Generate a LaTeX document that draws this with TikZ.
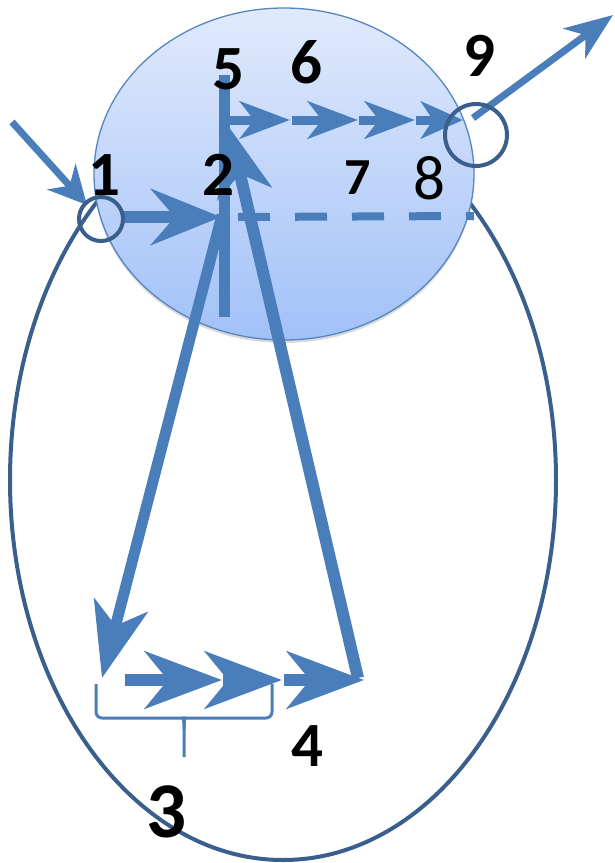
\documentclass[tikz,border=0pt]{standalone}
\usepackage{fontspec}
\setmainfont{Carlito}
\usetikzlibrary{arrows.meta,shadows}
\definecolor{arr}{HTML}{4A7EBB}
\definecolor{ring}{HTML}{3B5F8D}
\definecolor{circtop}{HTML}{E0EAFC}
\definecolor{circbot}{HTML}{A2C1F8}
\definecolor{circborder}{HTML}{5585C2}
\begin{document}
\begin{tikzpicture}[x=1pt,y=-1pt,
  lab/.style={inner sep=0pt,font=\fontsize{63}{63}\selectfont\bfseries},
  ringline/.style={draw=ring,line width=4pt},
  toparrow/.style={draw=arr,line width=9pt,-{Stealth[length=50pt,width=37pt,inset=14pt]}},
  botarrow/.style={draw=arr,line width=12pt,-{Stealth[length=77pt,width=57pt,inset=23pt]}},
  bracepath/.style={draw=arr,line width=3pt,rounded corners=6pt}]
\useasboundingbox (0,0) rectangle (614,863);
% big ellipse
\draw[ringline] (283,480) ellipse [x radius=273, y radius=380];
% blue circle
\shade[top color=circtop,bottom color=circbot,draw=circborder,line width=1.3pt,
  drop shadow={shadow xshift=0pt,shadow yshift=-3pt,opacity=0.3}]
  (284,174) ellipse [x radius=190, y radius=166];
% coordinates
\coordinate (inS) at (12,122);
\coordinate (inT) at (87,205);
\coordinate (hS) at (122,217);
\coordinate (hT) at (221,217);
\coordinate (barTop) at (224,75);
\coordinate (barBot) at (224,317);
\coordinate (dS) at (238,217);
\coordinate (dE) at (474,216);
\coordinate (t0) at (230,120);
\coordinate (t1) at (290,120);
\coordinate (t1b) at (292,120);
\coordinate (t2) at (358,120);
\coordinate (t2b) at (359,120);
\coordinate (t3) at (415,120);
\coordinate (t3b) at (416,120);
\coordinate (t4) at (463,120);
\coordinate (oS) at (473,118);
\coordinate (oT) at (613,15);
\coordinate (downS) at (222,215);
\coordinate (downT) at (102,678);
\coordinate (upS) at (358,678);
\coordinate (upT) at (229,127);
\coordinate (b0) at (125,680);
\coordinate (b1) at (222,680);
\coordinate (b1b) at (223,680);
\coordinate (b2) at (282,680);
\coordinate (b2b) at (284,680);
\coordinate (b3) at (364,680);
% bar and dashed line
\draw[arr,line width=11pt] (barTop) -- (barBot);
\draw[arr,line width=8pt,dash pattern=on 32pt off 25pt] (dS) -- (dE);
% arrows
\draw[arr,line width=7pt,-{Stealth[length=38pt,width=38pt,inset=12pt]}] (inS) -- (inT);
\draw[arr,line width=12pt,-{Stealth[length=70pt,width=56pt,inset=24pt]}] (hS) -- (hT);
\draw[toparrow] (t0) -- (t1);
\draw[toparrow] (t1b) -- (t2);
\draw[toparrow] (t2b) -- (t3);
\draw[draw=arr,line width=9pt,-{Stealth[length=42pt,width=37pt,inset=12pt]}] (t3b) -- (t4);
\draw[arr,line width=7pt,-{Stealth[length=48pt,width=37pt,inset=14pt]}] (oS) -- (oT);
\draw[arr,line width=11pt,-{Stealth[length=75pt,width=55pt,inset=21pt]}] (downS) -- (downT);
\draw[arr,line width=12pt,-{Stealth[length=68pt,width=55pt,inset=20pt]}] (upS) -- (upT);
\draw[botarrow] (b0) -- (b1);
\draw[botarrow] (b1b) -- (b2);
\draw[botarrow] (b2b) -- (b3);
% small circles
\draw[ringline] (101,219) circle [radius=22];
\draw[ringline] (476,135) circle [radius=31];
% brace
\draw[bracepath] (96,684) -- (96,718) -- (178,718)
  .. controls (183,718) and (184,722) .. (184,730) -- (184,757);
\draw[bracepath] (272,684) -- (272,718) -- (190,718)
  .. controls (185,718) and (184,722) .. (184,730);
% labels
\node[lab] (l1) at (104,175) {1};
\node[lab] (l2) at (218,175) {2};
\node[lab] (l5) at (228,69) {5};
\node[lab] (l6) at (306,62) {6};
\node[lab,font=\fontsize{52}{52}\selectfont\bfseries] (l7) at (358,178) {7};
\node[lab,font=\fontsize{63}{63}\selectfont] (l8) at (429,178) {8};
\node[lab] (l9) at (479,56) {9};
\node[lab] (l4) at (307,746) {4};
\node[lab,font=\fontsize{79}{79}\selectfont\bfseries] (l3) at (167,812) {3};
\end{tikzpicture}
\end{document}
